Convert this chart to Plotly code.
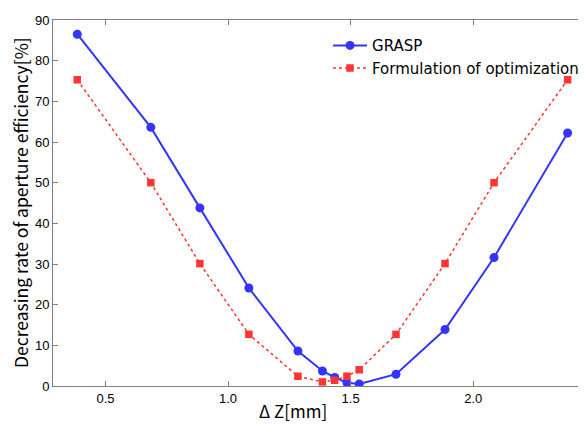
import plotly.graph_objects as go

x_vals = [0.385, 0.685, 0.885, 1.085, 1.285, 1.385, 1.435, 1.485, 1.535, 1.685, 1.885, 2.085, 2.385]
grasp = [86.5, 63.6, 43.8, 24.1, 8.6, 3.7, 2.1, 0.8, 0.5, 2.9, 13.9, 31.6, 62.2]
formulation = [75.3, 50.0, 30.1, 12.7, 2.4, 1.0, 1.4, 2.4, 4.0, 12.7, 30.1, 50.0, 75.3]
y_ticks = [0, 10, 20, 30, 40, 50, 60, 70, 80, 90]
x_ticks = [0.5, 1.0, 1.5, 2.0]
x_tick_labels = ["0.5", "1.0", "1.5", "2.0"]

FONT = "Noto Sans CJK JP"
LEGFONT = "DejaVu Sans"
TICKFONT = "Liberation Sans"
fig = go.Figure()
fig.add_trace(go.Scatter(
    x=x_vals, y=grasp, mode="lines+markers", name="GRASP",
    line=dict(color="#3434FF", width=2),
    marker=dict(symbol="circle", size=9, color="#3434FF"),
))
fig.add_trace(go.Scatter(
    x=x_vals, y=formulation, mode="lines+markers", name="Formulation of optimization",
    line=dict(color="#FF3434", width=1.5, dash="dot"),
    marker=dict(symbol="square", size=7.5, color="#FF3434"),
))
fig.update_layout(
    width=578, height=417,
    margin=dict(l=45, r=0, t=12, b=39),
    paper_bgcolor="white", plot_bgcolor="white",
    font=dict(family=FONT, color="black"),
    showlegend=True,
    legend=dict(x=0.516, y=0.975, xanchor="left", yanchor="top",
                font=dict(size=15, family=LEGFONT), bgcolor="rgba(0,0,0,0)",
                tracegroupgap=0, itemwidth=34),
    xaxis=dict(range=[0.286, 2.46], tickvals=x_ticks, ticktext=x_tick_labels,
               showgrid=False, zeroline=False, showline=True, linecolor="#808080",
               linewidth=1, mirror="allticks", ticks="inside", ticklen=5, tickcolor="#808080",
               tickfont=dict(size=13, family=TICKFONT), automargin=False),
    yaxis=dict(range=[0, 90], tickvals=y_ticks,
               showgrid=False, zeroline=False, showline=True, linecolor="#808080",
               linewidth=1, mirror=False, ticks="inside", ticklen=5, tickcolor="#808080",
               tickfont=dict(size=13, family=TICKFONT), automargin=False),
    annotations=[
        dict(text="Δ Z[mm]", xref="paper", yref="paper", x=0.4505, y=0,
             xanchor="center", yanchor="middle", yshift=-24, showarrow=False,
             font=dict(size=17, family=FONT)),
        dict(text="Decreasing rate of aperture efficiency[%]", xref="paper", yref="paper",
             x=0, y=0.5, xanchor="center", yanchor="middle", xshift=-33, textangle=-90,
             showarrow=False, font=dict(size=17.5, family=FONT)),
    ],
)
fig.write_html("out.html")
